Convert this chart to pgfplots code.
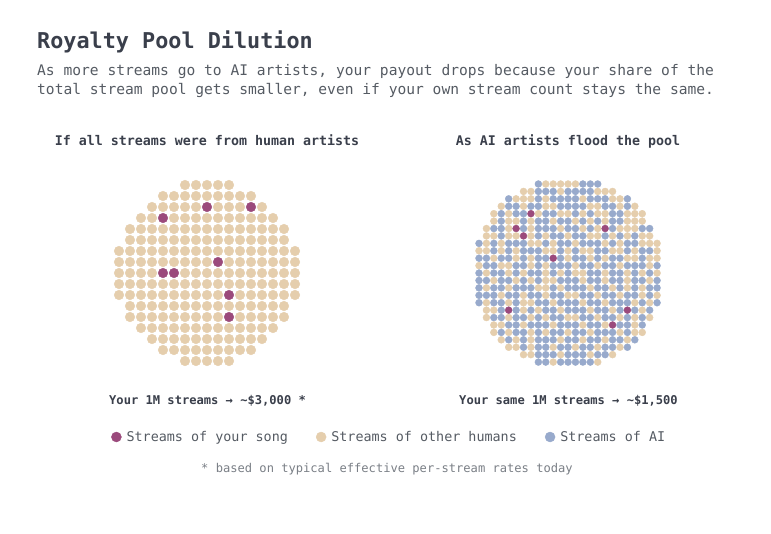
\documentclass[border=0pt]{standalone}
\usepackage{pgfplots}
\usepackage{pgfplotstable}
\pgfplotsset{compat=1.18}
\usepackage{fontspec}
\setmainfont{DejaVu Sans Mono}
\definecolor{humantan}{HTML}{E5CEAD}
\definecolor{yoursong}{HTML}{9B4A7C}
\definecolor{aiblue}{HTML}{98AACC}
\definecolor{ink}{HTML}{3A3F4B}
\definecolor{subink}{HTML}{555B63}
\definecolor{noteink}{HTML}{7A7F86}

% left pool: h = other humans, y = your song, n = no dot
\pgfplotstableread{
r c0 c1 c2 c3 c4 c5 c6 c7 c8 c9 c10 c11 c12 c13 c14 c15 c16
0  n n n n n n h h h h h n n n n n n
1  n n n n h h h h h h h h h n n n n
2  n n n h h h h h y h h h y h n n n
3  n n h h y h h h h h h h h h h n n
4  n h h h h h h h h h h h h h h h n
5  n h h h h h h h h h h h h h h h n
6  h h h h h h h h h h h h h h h h h
7  h h h h h h h h h y h h h h h h h
8  h h h h y y h h h h h h h h h h h
9  h h h h h h h h h h h h h h h h h
10 h h h h h h h h h h y h h h h h h
11 n h h h h h h h h h h h h h h h n
12 n h h h h h h h h h y h h h h h n
13 n n h h h h h h h h h h h h h n n
14 n n n h h h h h h h h h h h n n n
15 n n n n h h h h h h h h h n n n n
16 n n n n n n h h h h h n n n n n n
}\lefttab

% right pool: a = AI
\pgfplotstableread{
r c0 c1 c2 c3 c4 c5 c6 c7 c8 c9 c10 c11 c12 c13 c14 c15 c16 c17 c18 c19 c20 c21 c22 c23 c24
0  n n n n n n n n a h h h h h a a a n n n n n n n n
1  n n n n n n h h a a a h a a a a h h h n n n n n n
2  n n n n a h h h a h a a a a h a a a h h a n n n n
3  n n n h a a h a a h h a a a a h h a a h a h n n n
4  n n h a h a a y h a a h h a h a h h a a h h h n n
5  n n h a h h a h a a h a a h a h a h a a h h h n n
6  n h a a h y a h a a a h a a h a h y a h h h a a n
7  n h h a h h y h a h a a h a a h h a h a h a h h n
8  a h a h a a a h h a h a a h a a a h a h a a h h h
9  h h a h a h a a a h h a h a h h a a h h a h a a h
10 a a h a a h a h a a y a h a a h a h a a h h a h h
11 h a a h h a a h a h a a a h a a h a a h a a a h a
12 a h a a h a h a a h a h a h h a a h a a h a h a h
13 a a h a a h a h a h h a a a h a a h a a h a a h a
14 a h a a h a a a h h a h a a a h a a h a h a h a a
15 a a a h a a h a a h a a h h a a h a a h a a h a h
16 a h a a h a h h a a h a a a h a a h a a a h a h a
17 n h h a y a h a h a a h a a a h a a h a y a h a n
18 n h a a h a a h a h a a h h a a h a a h a h a h n
19 n n h h a a h a a a h a a a h a a h y a a h a n n
20 n n h a h a a h a h a a h a a h a a a h a h h n n
21 n n n h a h a h a a a h a a h a a h a a h a n n n
22 n n n n h h a h a a h a a h a a h a a h a n n n n
23 n n n n n n h h a a a h a a a h a a h n n n n n n
24 n n n n n n n n a a h a a a a a h n n n n n n n n
}\righttab

\newcommand{\fs}[1]{\fontsize{#1bp}{#1bp}\selectfont}

\begin{document}
\begin{tikzpicture}
\useasboundingbox[fill=white] (0,0) rectangle (771bp,-534bp);

\node[anchor=base west, inner sep=0pt, text=ink, font=\bfseries\fs{21.8}] at (37bp,-48bp) {Royalty Pool Dilution};
\node[anchor=base west, inner sep=0pt, text=subink, font=\fs{14.6}] at (37bp,-75.5bp) {As more streams go to AI artists, your payout drops because your share of the};
\node[anchor=base west, inner sep=0pt, text=subink, font=\fs{14.6}] at (37bp,-94.5bp) {total stream pool gets smaller, even if your own stream count stays the same.};

\node[anchor=base, inner sep=0pt, text=ink, font=\bfseries\fs{13.3}] at (207bp,-145bp) {If all streams were from human artists};
\node[anchor=base, inner sep=0pt, text=ink, font=\bfseries\fs{13.3}] at (568bp,-145bp) {As AI artists flood the pool};

\node[anchor=base west, inner sep=0pt, text=ink, font=\bfseries\fs{12.1}] at (109bp,-404.5bp) {Your 1M streams → \textasciitilde\$3,000 *};
\node[anchor=base, inner sep=0pt, text=ink, font=\bfseries\fs{12.1}] at (568.5bp,-404.5bp) {Your same 1M streams → \textasciitilde\$1,500};

\node[anchor=base west, inner sep=0pt, text=noteink, font=\fs{12.1}] at (201bp,-472bp) {* based on typical effective per-stream rates today};

\begin{axis}[at={(113.5bp,-179.5bp)}, anchor=north west,
  width=187bp, height=187bp, scale only axis, hide axis, clip=false,
  xmin=-0.5, xmax=16.5, ymin=-0.5, ymax=16.5, y dir=reverse]
\pgfplotsinvokeforeach{0,...,16}{
  \addplot[scatter, only marks, mark=*, mark size=4.8bp,
    point meta=explicit symbolic,
    scatter/classes={h={humantan}, y={yoursong}, a={aiblue}, n={opacity=0}}]
    table[x expr=#1, y=r, meta=c#1] {\lefttab};
}
\end{axis}

\begin{axis}[at={(475.29bp,-180.29bp)}, anchor=north west,
  width=185.5bp, height=185.5bp, scale only axis, hide axis, clip=false,
  xmin=-0.5, xmax=24.5, ymin=-0.5, ymax=24.5, y dir=reverse]
\pgfplotsinvokeforeach{0,...,24}{
  \addplot[scatter, only marks, mark=*, mark size=3.45bp,
    point meta=explicit symbolic,
    scatter/classes={h={humantan}, y={yoursong}, a={aiblue}, n={opacity=0}}]
    table[x expr=#1, y=r, meta=c#1] {\righttab};
}
\end{axis}

\begin{axis}[at={(0bp,0bp)}, anchor=north west,
  width=771bp, height=534bp, scale only axis, hide axis,
  xmin=0, xmax=771, ymin=-534, ymax=0,
  legend columns=3, legend cell align=left,
  legend image code/.code={\fill[#1] (0bp,0bp) circle (5bp);},
  legend style={draw=none, fill=none, inner sep=0pt,
    at={(0.14397,0.18165)}, anchor=west,
    font=\fs{13.4}, text=subink,
    nodes={inner sep=0pt},
    /tikz/every odd column/.append style={column sep=5bp},
    /tikz/every even column/.append style={column sep=28bp}},
  legend entries={Streams of your song, Streams of other humans, Streams of AI}]
\addlegendimage{yoursong}
\addlegendimage{humantan}
\addlegendimage{aiblue}
\end{axis}
\end{tikzpicture}
\end{document}
